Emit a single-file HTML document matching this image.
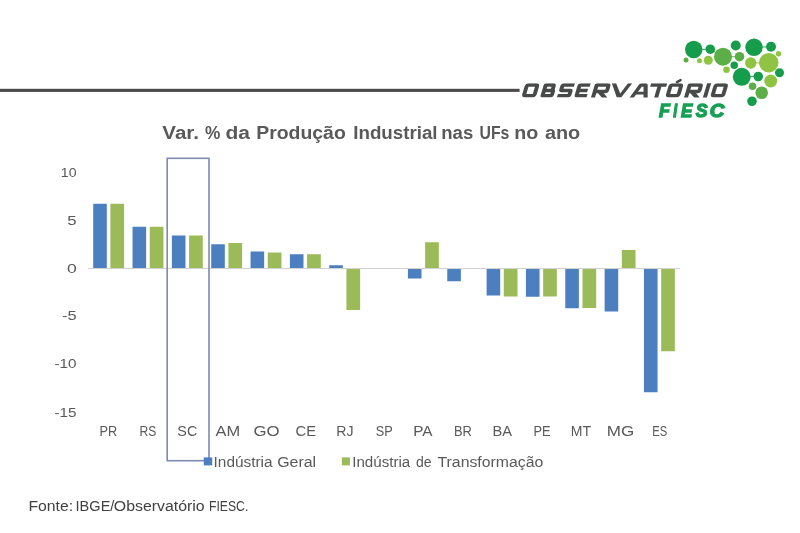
<!DOCTYPE html>
<html lang="pt-BR">
<head>
<meta charset="utf-8">
<title>Var. % da Produção Industrial nas UFs no ano</title>
<style>
html,body{margin:0;padding:0;background:#ffffff;}
body{width:800px;height:533px;overflow:hidden;font-family:"Liberation Sans",sans-serif;}
svg{display:block;}
text{font-family:"Liberation Sans",sans-serif;}
</style>
</head>
<body>
<svg width="800" height="533" viewBox="0 0 800 533">
<rect x="0" y="0" width="800" height="533" fill="#ffffff"/>
<g opacity="0.999">
<rect x="0" y="88.8" width="519.6" height="3.1" fill="#4b4b4b"/>
<g id="dots">
<line x1="693.75" y1="49.5" x2="710.25" y2="49.2" stroke="#169d4c" stroke-width="0.9"/>
<line x1="754" y1="47.25" x2="771" y2="46.8" stroke="#169d4c" stroke-width="0.9"/>
<line x1="741.75" y1="76.8" x2="758.25" y2="76.5" stroke="#169d4c" stroke-width="0.9"/>
<line x1="750.75" y1="63" x2="768.75" y2="62.7" stroke="#8fc442" stroke-width="0.9"/>
<line x1="710.25" y1="49.2" x2="723" y2="56.7" stroke="#169d4c" stroke-width="0.9"/>
<line x1="723" y1="56.7" x2="739.5" y2="56.7" stroke="#5cae46" stroke-width="0.9"/>
<circle cx="693.75" cy="49.5" r="8.7" fill="#169d4c"/>
<circle cx="710.25" cy="49.2" r="4.8" fill="#169d4c"/>
<circle cx="723" cy="56.7" r="9" fill="#5cae46"/>
<circle cx="735.75" cy="45.45" r="5" fill="#169d4c"/>
<circle cx="754" cy="47.25" r="8.7" fill="#169d4c"/>
<circle cx="771" cy="46.8" r="5" fill="#169d4c"/>
<circle cx="778.5" cy="53.7" r="2.7" fill="#8fc442"/>
<circle cx="739.5" cy="56.7" r="4.8" fill="#5cae46"/>
<circle cx="750.75" cy="63" r="5.7" fill="#8fc442"/>
<circle cx="768.75" cy="62.7" r="9.75" fill="#8fc442"/>
<circle cx="734.25" cy="65.25" r="3.75" fill="#169d4c"/>
<circle cx="726.5" cy="69.75" r="3.3" fill="#8fc442"/>
<circle cx="708.3" cy="60.3" r="4.5" fill="#8fc442"/>
<circle cx="699.5" cy="60.75" r="2.5" fill="#8fc442"/>
<circle cx="686" cy="60" r="2.5" fill="#5cae46"/>
<circle cx="741.75" cy="76.8" r="9" fill="#169d4c"/>
<circle cx="758.25" cy="76.5" r="4.8" fill="#169d4c"/>
<circle cx="779.5" cy="72.75" r="4.5" fill="#169d4c"/>
<circle cx="770.7" cy="81" r="6.45" fill="#8fc442"/>
<circle cx="752.5" cy="86.25" r="3.75" fill="#5cae46"/>
<circle cx="761.7" cy="92.7" r="6.3" fill="#5cae46"/>
<circle cx="752" cy="101.25" r="4.8" fill="#169d4c"/>
</g>
<defs><clipPath id="wmclip"><rect x="500" y="83.3" width="260" height="14.200000000000003"/></clipPath></defs>
<g id="wordmark" clip-path="url(#wmclip)">
<g transform="translate(0,97.5) skewX(-16.5) translate(0,-97.5) scale(1.15,1)" fill="none" stroke="#484a49" stroke-width="3.5" stroke-linejoin="round" stroke-linecap="butt">
<path d="M 456.530 85.050 H 462.687 Q 464.165 85.050 464.165 86.750 V 94.050 Q 464.165 95.750 462.687 95.750 H 456.530 Q 455.052 95.750 455.052 94.050 V 86.750 Q 455.052 85.050 456.530 85.050 Z"/>
<path d="M 471.313 90.400 H 477.470 Q 478.513 90.400 478.513 89.200 V 86.250 Q 478.513 85.050 477.470 85.050 H 471.313 V 95.750 H 478.252 Q 479.296 95.750 479.296 94.550 V 91.600 Q 479.296 90.400 478.252 90.400 H 477.035"/>
<path d="M 496.261 85.050 H 487.052 Q 486.009 85.050 486.009 86.250 V 89.200 Q 486.009 90.400 487.052 90.400 H 493.470 Q 494.513 90.400 494.513 91.600 V 94.550 Q 494.513 95.750 493.470 95.750 H 484.261"/>
<path d="M 510.000 85.050 H 501.748 Q 500.878 85.050 500.878 86.050 V 94.750 Q 500.878 95.750 501.748 95.750 H 510.000 M 500.878 90.400 H 509.130"/>
<path d="M 515.661 100.500 V 85.050 H 525.035 Q 526.078 85.050 526.078 86.250 V 90.200 Q 526.078 91.400 525.035 91.400 H 515.661 M 519.643 91.400 L 526.861 98.700"/>
<polygon stroke="none" fill="#484a49" points="528.348,83.20 532.087,83.20 538.261,93.50 542.435,83.20 546.174,83.20 540.174,97.60 536.348,97.60"/>
<path d="M 548.957 98.500 L 553.913 85.450 Q 554.261 85.050 554.783 85.050 H 557.565 Q 558.087 85.050 558.348 85.550 L 561.652 98.500"/>
<path d="M 550.957 93.100 H 560.261" stroke-width="2.8"/>
<path d="M 562.609 85.050 H 576.522 M 570.609 85.050 V 100.500"/>
<path d="M 581.574 85.050 H 587.817 Q 589.296 85.050 589.296 86.750 V 94.050 Q 589.296 95.750 587.817 95.750 H 581.574 Q 580.096 95.750 580.096 94.050 V 86.750 Q 580.096 85.050 581.574 85.050 Z"/>
<path d="M 596.530 100.500 V 85.050 H 605.383 Q 606.426 85.050 606.426 86.250 V 90.200 Q 606.426 91.400 605.383 91.400 H 596.530 M 599.991 91.400 L 607.209 98.700"/>
<path d="M 612.965 80.300 V 100.500"/>
<path d="M 620.617 85.050 H 626.774 Q 628.252 85.050 628.252 86.750 V 94.050 Q 628.252 95.750 626.774 95.750 H 620.617 Q 619.139 95.750 619.139 94.050 V 86.750 Q 619.139 85.050 620.617 85.050 Z"/>
</g>
</g>
<path d="M676.9,82.1 L680.6,80.1" fill="none" stroke="#484a49" stroke-width="2.4" stroke-linecap="round"/>
<text x="659.09" y="116.5" font-size="17.8" font-weight="700" font-style="italic" fill="#17a055" stroke="#17a055" stroke-width="1.3" stroke-linejoin="miter" textLength="10.93" lengthAdjust="spacingAndGlyphs">F</text>
<text x="673.15" y="116.5" font-size="17.8" font-weight="700" font-style="italic" fill="#17a055" stroke="#17a055" stroke-width="1.3" stroke-linejoin="miter" textLength="3.90" lengthAdjust="spacingAndGlyphs">I</text>
<text x="681.10" y="116.5" font-size="17.8" font-weight="700" font-style="italic" fill="#17a055" stroke="#17a055" stroke-width="1.3" stroke-linejoin="miter" textLength="11.36" lengthAdjust="spacingAndGlyphs">E</text>
<text x="695.68" y="116.5" font-size="17.8" font-weight="700" font-style="italic" fill="#17a055" stroke="#17a055" stroke-width="1.3" stroke-linejoin="miter" textLength="11.79" lengthAdjust="spacingAndGlyphs">S</text>
<text x="709.89" y="116.5" font-size="17.8" font-weight="700" font-style="italic" fill="#17a055" stroke="#17a055" stroke-width="1.3" stroke-linejoin="miter" textLength="14.60" lengthAdjust="spacingAndGlyphs">C</text>
<text x="162.35" y="139.2" font-size="18.3" font-weight="700" fill="#595959" textLength="36.54" lengthAdjust="spacingAndGlyphs">Var.</text>
<text x="205.07" y="139.2" font-size="18.3" font-weight="700" fill="#595959" textLength="15.39" lengthAdjust="spacingAndGlyphs">%</text>
<text x="225.41" y="139.2" font-size="18.3" font-weight="700" fill="#595959" textLength="24.47" lengthAdjust="spacingAndGlyphs">da</text>
<text x="256.19" y="139.2" font-size="18.3" font-weight="700" fill="#595959" textLength="89.58" lengthAdjust="spacingAndGlyphs">Produção</text>
<text x="353.24" y="139.2" font-size="18.3" font-weight="700" fill="#595959" textLength="84.34" lengthAdjust="spacingAndGlyphs">Industrial</text>
<text x="441.29" y="139.2" font-size="18.3" font-weight="700" fill="#595959" textLength="31.96" lengthAdjust="spacingAndGlyphs">nas</text>
<text x="479.55" y="139.2" font-size="18.3" font-weight="700" fill="#595959" textLength="29.86" lengthAdjust="spacingAndGlyphs">UFs</text>
<text x="514.22" y="139.2" font-size="18.3" font-weight="700" fill="#595959" textLength="24.05" lengthAdjust="spacingAndGlyphs">no</text>
<text x="544.90" y="139.2" font-size="18.3" font-weight="700" fill="#595959" textLength="35.35" lengthAdjust="spacingAndGlyphs">ano</text>
<text x="60.84" y="176.5" font-size="13.6" font-weight="400" fill="#595959" textLength="15.72" lengthAdjust="spacingAndGlyphs">10</text>
<text x="67.33" y="224.5" font-size="13.6" font-weight="400" fill="#595959" textLength="9.37" lengthAdjust="spacingAndGlyphs">5</text>
<text x="66.90" y="273.0" font-size="13.6" font-weight="400" fill="#595959" textLength="9.78" lengthAdjust="spacingAndGlyphs">0</text>
<text x="62.06" y="320.1" font-size="13.6" font-weight="400" fill="#595959" textLength="14.63" lengthAdjust="spacingAndGlyphs">-5</text>
<text x="54.51" y="368.1" font-size="13.6" font-weight="400" fill="#595959" textLength="22.06" lengthAdjust="spacingAndGlyphs">-10</text>
<text x="54.51" y="416.5" font-size="13.6" font-weight="400" fill="#595959" textLength="22.11" lengthAdjust="spacingAndGlyphs">-15</text>
<rect x="93.20" y="203.75" width="13.6" height="64.75" fill="#4b7fbf"/>
<rect x="110.40" y="203.75" width="13.7" height="64.75" fill="#9bbb59"/>
<rect x="132.54" y="226.75" width="13.6" height="41.75" fill="#4b7fbf"/>
<rect x="149.74" y="226.75" width="13.7" height="41.75" fill="#9bbb59"/>
<rect x="171.88" y="235.50" width="13.6" height="33.00" fill="#4b7fbf"/>
<rect x="189.08" y="235.50" width="13.7" height="33.00" fill="#9bbb59"/>
<rect x="211.22" y="244.25" width="13.6" height="24.25" fill="#4b7fbf"/>
<rect x="228.42" y="243.00" width="13.7" height="25.50" fill="#9bbb59"/>
<rect x="250.56" y="251.50" width="13.6" height="17.00" fill="#4b7fbf"/>
<rect x="267.76" y="252.50" width="13.7" height="16.00" fill="#9bbb59"/>
<rect x="289.90" y="254.25" width="13.6" height="14.25" fill="#4b7fbf"/>
<rect x="307.10" y="254.25" width="13.7" height="14.25" fill="#9bbb59"/>
<rect x="329.24" y="265.25" width="13.6" height="3.25" fill="#4b7fbf"/>
<rect x="346.44" y="268.50" width="13.7" height="41.50" fill="#9bbb59"/>
<rect x="407.92" y="268.50" width="13.6" height="10.00" fill="#4b7fbf"/>
<rect x="425.12" y="242.25" width="13.7" height="26.25" fill="#9bbb59"/>
<rect x="447.26" y="268.50" width="13.6" height="12.75" fill="#4b7fbf"/>
<rect x="486.60" y="268.50" width="13.6" height="27.00" fill="#4b7fbf"/>
<rect x="503.80" y="268.50" width="13.7" height="28.00" fill="#9bbb59"/>
<rect x="525.94" y="268.50" width="13.6" height="28.25" fill="#4b7fbf"/>
<rect x="543.14" y="268.50" width="13.7" height="28.00" fill="#9bbb59"/>
<rect x="565.28" y="268.50" width="13.6" height="39.75" fill="#4b7fbf"/>
<rect x="582.48" y="268.50" width="13.7" height="39.50" fill="#9bbb59"/>
<rect x="604.62" y="268.50" width="13.6" height="43.00" fill="#4b7fbf"/>
<rect x="621.82" y="250.00" width="13.7" height="18.50" fill="#9bbb59"/>
<rect x="643.96" y="268.50" width="13.6" height="123.75" fill="#4b7fbf"/>
<rect x="661.16" y="268.50" width="13.7" height="82.75" fill="#9bbb59"/>
<rect x="88.2" y="268.0" width="591.3" height="1.05" fill="#d2d2d2"/>
<text x="99.45" y="435.6" font-size="14.2" font-weight="400" fill="#595959" textLength="17.64" lengthAdjust="spacingAndGlyphs">PR</text>
<text x="139.50" y="435.6" font-size="14.2" font-weight="400" fill="#595959" textLength="16.81" lengthAdjust="spacingAndGlyphs">RS</text>
<text x="177.35" y="435.6" font-size="14.2" font-weight="400" fill="#595959" textLength="19.96" lengthAdjust="spacingAndGlyphs">SC</text>
<text x="215.46" y="435.6" font-size="14.2" font-weight="400" fill="#595959" textLength="24.65" lengthAdjust="spacingAndGlyphs">AM</text>
<text x="253.41" y="435.6" font-size="14.2" font-weight="400" fill="#595959" textLength="26.15" lengthAdjust="spacingAndGlyphs">GO</text>
<text x="295.51" y="435.6" font-size="14.2" font-weight="400" fill="#595959" textLength="20.61" lengthAdjust="spacingAndGlyphs">CE</text>
<text x="336.34" y="435.6" font-size="14.2" font-weight="400" fill="#595959" textLength="17.21" lengthAdjust="spacingAndGlyphs">RJ</text>
<text x="375.68" y="435.6" font-size="14.2" font-weight="400" fill="#595959" textLength="16.98" lengthAdjust="spacingAndGlyphs">SP</text>
<text x="413.24" y="435.6" font-size="14.2" font-weight="400" fill="#595959" textLength="19.30" lengthAdjust="spacingAndGlyphs">PA</text>
<text x="453.94" y="435.6" font-size="14.2" font-weight="400" fill="#595959" textLength="17.92" lengthAdjust="spacingAndGlyphs">BR</text>
<text x="492.55" y="435.6" font-size="14.2" font-weight="400" fill="#595959" textLength="19.48" lengthAdjust="spacingAndGlyphs">BA</text>
<text x="533.44" y="435.6" font-size="14.2" font-weight="400" fill="#595959" textLength="17.09" lengthAdjust="spacingAndGlyphs">PE</text>
<text x="570.84" y="435.6" font-size="14.2" font-weight="400" fill="#595959" textLength="20.24" lengthAdjust="spacingAndGlyphs">MT</text>
<text x="606.84" y="435.6" font-size="14.2" font-weight="400" fill="#595959" textLength="27.45" lengthAdjust="spacingAndGlyphs">MG</text>
<text x="652.33" y="435.6" font-size="14.2" font-weight="400" fill="#595959" textLength="14.95" lengthAdjust="spacingAndGlyphs">ES</text>
<rect x="167.2" y="158.3" width="41.8" height="302.4" fill="none" stroke="#7d8ab2" stroke-width="1.6"/>
<rect x="203.8" y="457.4" width="8.4" height="8" fill="#4b7fbf"/>
<text x="213.58" y="467.0" font-size="14.0" font-weight="400" fill="#595959" textLength="58.93" lengthAdjust="spacingAndGlyphs">Indústria</text>
<text x="277.21" y="467.0" font-size="14.0" font-weight="400" fill="#595959" textLength="38.87" lengthAdjust="spacingAndGlyphs">Geral</text>
<rect x="341.9" y="457.4" width="8" height="8" fill="#9bbb59"/>
<text x="352.20" y="467.0" font-size="14.0" font-weight="400" fill="#595959" textLength="58.11" lengthAdjust="spacingAndGlyphs">Indústria</text>
<text x="416.00" y="467.0" font-size="14.0" font-weight="400" fill="#595959" textLength="15.63" lengthAdjust="spacingAndGlyphs">de</text>
<text x="437.54" y="467.0" font-size="14.0" font-weight="400" fill="#595959" textLength="105.69" lengthAdjust="spacingAndGlyphs">Transformação</text>
<text x="28.45" y="511.3" font-size="14" font-weight="400" fill="#404040" textLength="44.67" lengthAdjust="spacingAndGlyphs">Fonte:</text>
<text x="75.55" y="511.3" font-size="14" font-weight="400" fill="#404040" textLength="38.85" lengthAdjust="spacingAndGlyphs">IBGE/</text>
<text x="113.85" y="511.3" font-size="14" font-weight="400" fill="#404040" textLength="90.82" lengthAdjust="spacingAndGlyphs">Observatório</text>
<text x="208.99" y="511.3" font-size="14" font-weight="400" fill="#404040" textLength="39.31" lengthAdjust="spacingAndGlyphs">FIESC.</text>
</g>
</svg>
</body>
</html>
